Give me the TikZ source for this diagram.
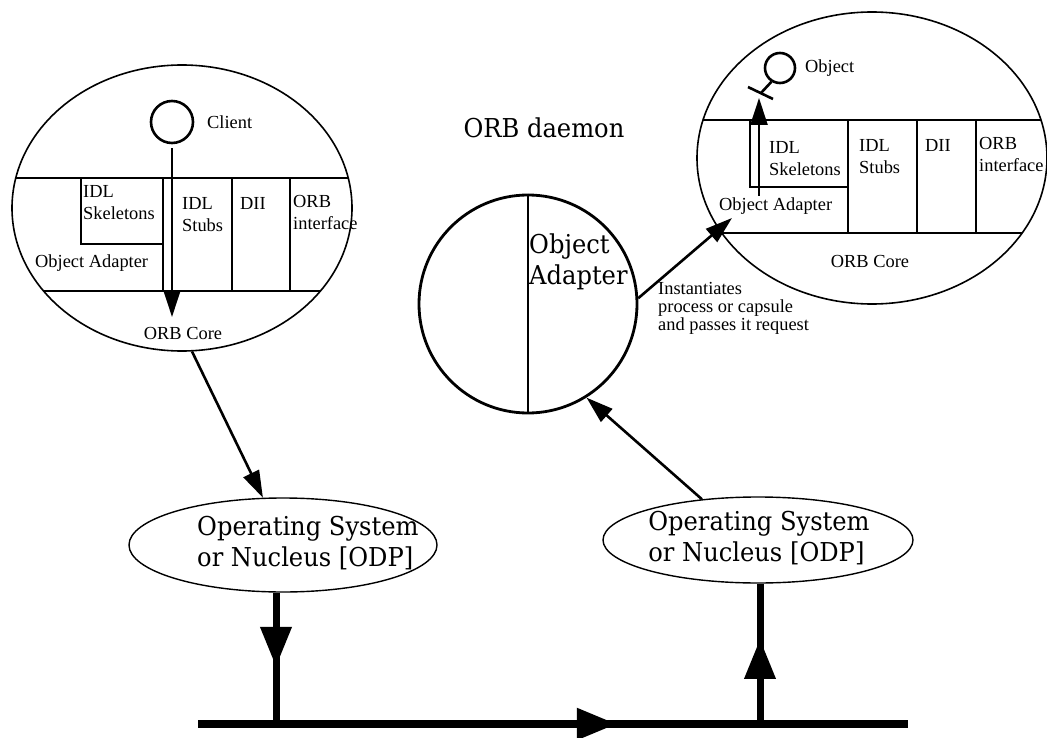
\documentclass[tikz,border=0pt]{standalone}
\usepackage{fontspec}
\setmainfont{Liberation Serif}
\newfontfamily\bigserif[FakeStretch=0.93]{DejaVu Serif}
\usetikzlibrary{shapes.geometric,arrows.meta,decorations.markings}

\tikzset{
    host/.style={draw, ellipse, line width=1.6pt, inner sep=0pt},
    osbox/.style={draw, ellipse, line width=1.4pt, inner sep=0pt, minimum width=308pt, minimum height=94pt},
    layer/.style={line width=1.8pt},
    lbl/.style={font=\fontsize{18.4}{22}\selectfont, inner sep=0pt, align=left, anchor=west},
    big/.style={font=\bigserif\fontsize{26}{31}\selectfont, inner sep=0pt, align=left},
    arr/.style={line width=2.6pt, -{Triangle[length=27pt,width=17pt]}},
    wire/.style={line width=7pt},
    midtip/.style={postaction={decorate}, decoration={markings,
        mark=at position #1 with {\arrow{Triangle[length=40pt,width=30pt]}}}}
}

\begin{document}
\begin{tikzpicture}[x=1pt, y=-1pt]
    \useasboundingbox (0,0) rectangle (1047,738);

    % client side
    \node[host, minimum width=340pt, minimum height=286pt] (hostL) at (182,208) {};
    \begin{scope}
        \clip (182,208) ellipse [x radius=170pt, y radius=143pt];
        \draw[layer] (0,178) -- (400,178) (0,291) -- (400,291);
        \draw[layer] (81,178) -- (81,244) -- (163,244);
        \foreach \xx in {163,232,290}
            \draw[layer] (\xx,178) -- (\xx,291);
    \end{scope}
    \node[circle, draw, line width=2.6pt, minimum size=42pt, inner sep=0pt] (client) at (172,122) {};
    \coordinate (clientTip) at (172,317);
    \draw[arr, shorten <=4pt] (client.south) -- (clientTip);
    \node[lbl] (clientTxt) at (207,122) {Client};
    \node[lbl] (skelL) at (83,203) {IDL\\Skeletons};
    \node[lbl] (stubL) at (182,215) {IDL\\Stubs};
    \node[lbl] (diiL) at (240,203) {DII};
    \node[lbl] (orbiL) at (293,212) {ORB\\interface};
    \node[lbl] (oaL) at (35,263) {Object Adapter};
    \node[lbl, anchor=center] (coreL) at (183,333) {ORB Core};

    % server side
    \node[host, minimum width=350pt, minimum height=292pt] (hostR) at (872,158) {};
    \begin{scope}
        \clip (872,158) ellipse [x radius=175pt, y radius=146pt];
        \draw[layer] (680,120) -- (1060,120) (680,233) -- (1060,233);
        \draw[layer] (750,120) -- (750,187) -- (848,187);
        \foreach \xx in {848,917,976}
            \draw[layer] (\xx,120) -- (\xx,233);
    \end{scope}
    \node[circle, draw, line width=2.6pt, minimum size=30pt, inner sep=0pt] (obj) at (780,68) {};
    \coordinate (stemEnd) at (761,93);
    \draw[line width=2.6pt] (obj.238) -- (stemEnd);
    \draw[line width=2.6pt] (748,87) -- (773,99);
    \coordinate (objFoot) at (759,196);
    \coordinate (objTip) at (759,98);
    \draw[arr] (objFoot) -- (objTip);
    \node[lbl] (objTxt) at (805,68) {Object};
    \node[lbl] (skelR) at (769,159) {IDL\\Skeletons};
    \node[lbl] (stubR) at (859,157) {IDL\\Stubs};
    \node[lbl] (diiR) at (925,145) {DII};
    \node[lbl] (orbiR) at (979,154) {ORB\\interface};
    \node[lbl] (oaR) at (719,206) {Object Adapter};
    \node[lbl, anchor=center] (coreR) at (870,261) {ORB Core};

    % daemon
    \node[big] (daemon) at (544,128) {ORB daemon};
    \node[circle, draw, line width=2.8pt, minimum size=218pt, inner sep=0pt] (adC) at (528,304) {};
    \draw[line width=2.8pt] (adC.north) -- (adC.south);
    \node[big, anchor=west] (adTxt) at (529,262) {Object\\Adapter};
    \coordinate (instTip) at (732,218);
    \draw[arr] (adC.3) -- (instTip);
    \node[lbl, font=\fontsize{18.4}{18}\selectfont] (instTxt) at (658,308)
        {Instantiates\\process or capsule\\and passes it request};

    % operating systems
    \node[osbox] (osL) at (283,545) {};
    \node[big, anchor=west] (osLtxt) at (197,543) {Operating System\\or Nucleus [ODP]};
    \node[osbox, minimum height=86pt, minimum width=310pt] (osR) at (758,540) {};
    \node[big] (osRtxt) at (759,538) {Operating System\\or Nucleus [ODP]};

    \draw[arr] (hostL.-86) -- (osL.113);
    \draw[arr] (osR.144) -- (adC.-58);

    % network
    \coordinate (busW) at (198,724);
    \coordinate (busE) at (908,724);
    \coordinate (busL) at (276,724);
    \coordinate (busR) at (760,724);
    \draw[line width=8pt, midtip=0.59] (busW) -- (busE);
    \draw[wire, midtip=0.565] (osL.south -| busL) -- (busL);
    \draw[wire, midtip=0.606] (busR) -- (osR.south -| busR);
\end{tikzpicture}
\end{document}
